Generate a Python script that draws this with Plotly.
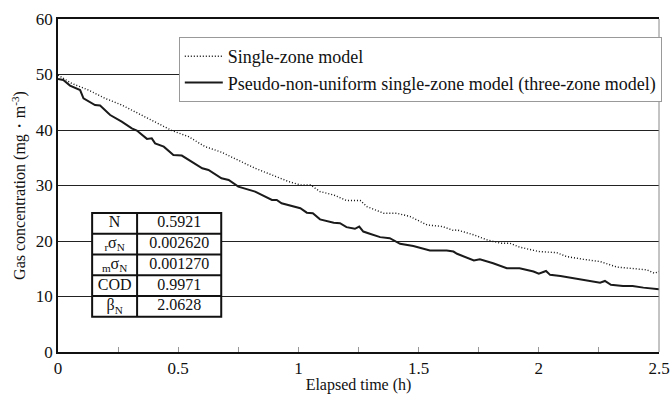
import plotly.graph_objects as go

# ---- data ----
t_single = [0, 0.057, 0.126, 0.196, 0.265, 0.335, 0.404, 0.474, 0.543, 0.612, 0.68, 0.75,
            0.82, 0.89, 0.96, 1.008, 1.05, 1.09, 1.147, 1.2, 1.257, 1.285, 1.355, 1.41,
            1.465, 1.535, 1.6, 1.645, 1.66, 1.73, 1.785, 1.84, 1.88, 1.92, 2.0, 2.075,
            2.115, 2.185, 2.255, 2.325, 2.39, 2.45, 2.48, 2.5]
c_single = [49.9, 48.4, 47.2, 45.7, 44.5, 43.0, 41.5, 39.9, 38.8, 37.0, 36.0, 34.6,
            33.1, 31.9, 30.7, 30.1, 30.1, 28.9, 28.3, 27.3, 27.3, 26.2, 25.0, 25.0,
            24.4, 22.9, 22.6, 21.9, 22.0, 21.1, 20.2, 19.6, 19.6, 18.9, 18.1, 17.9,
            17.2, 16.7, 16.3, 15.3, 15.1, 14.8, 14.2, 14.5]

t_three = [0, 0.022, 0.05, 0.092, 0.106, 0.154, 0.175, 0.217, 0.265, 0.307, 0.328, 0.37,
           0.39, 0.404, 0.44, 0.48, 0.515, 0.557, 0.6, 0.626, 0.68, 0.71, 0.75, 0.82,
           0.89, 0.91, 0.93, 1.008, 1.035, 1.06, 1.09, 1.147, 1.173, 1.2, 1.235, 1.253,
           1.27, 1.297, 1.34, 1.38, 1.423, 1.478, 1.547, 1.617, 1.645, 1.66, 1.73, 1.755,
           1.81, 1.867, 1.92, 1.978, 2.0, 2.03, 2.047, 2.09, 2.143, 2.2, 2.255, 2.275,
           2.3, 2.35, 2.39, 2.435, 2.5]
c_three = [49.2, 49.0, 48.0, 47.2, 45.7, 44.5, 44.4, 42.7, 41.5, 40.3, 39.9, 38.4,
           38.5, 37.6, 37.0, 35.5, 35.4, 34.3, 33.1, 32.8, 31.3, 31.0, 29.8, 28.9,
           27.4, 27.4, 26.8, 25.9, 25.1, 25.0, 23.9, 23.3, 23.2, 22.5, 22.2, 22.6,
           21.7, 21.3, 20.7, 20.5, 19.5, 19.1, 18.3, 18.3, 18.1, 17.7, 16.5, 16.7,
           16.0, 15.1, 15.1, 14.5, 14.1, 14.6, 13.9, 13.7, 13.3, 13.0, 12.5, 12.8,
           12.1, 11.9, 11.9, 11.6, 11.3]

series_names = ["Single-zone model",
                "Pseudo-non-uniform single-zone model (three-zone model)"]

table_labels = ["N", "<sub>r</sub>σ<sub>N</sub>", "<sub>m</sub>σ<sub>N</sub>", "COD", "β<sub>N</sub>"]
table_values = ["0.5921", "0.002620", "0.001270", "0.9971", "2.0628"]

x_ticks = [0, 0.5, 1, 1.5, 2, 2.5]
x_ticklabels = ["0", "0.5", "1", "1.5", "2", "2.5"]
y_ticks = [0, 10, 20, 30, 40, 50, 60]

FONT = "Liberation Serif"

fig = go.Figure()
fig.add_trace(go.Scatter(x=t_single, y=c_single, mode="lines", name=series_names[0],
                         legendgroup="a",
                         line=dict(color="#111111", width=1.4, dash="1px,2px")))
fig.add_trace(go.Scatter(x=t_three, y=c_three, mode="lines", name=series_names[1],
                         legendgroup="b",
                         line=dict(color="#1a1a1a", width=2)))

# ---- parameter table (layout in axis units) ----
tx0, tx1, tx2 = 0.142, 0.329, 0.679
ty_top, row_h = 25.05, 3.74
n = len(table_labels)
ty_bot = ty_top - n * row_h
shapes = [dict(type="rect", xref="x", yref="y", x0=tx0, x1=tx2, y0=ty_bot, y1=ty_top,
               line=dict(color="#111", width=2), fillcolor="white", layer="between"),
          dict(type="line", xref="x", yref="y", x0=tx1, x1=tx1, y0=ty_bot, y1=ty_top,
               line=dict(color="#111", width=2), layer="between")]
for i in range(1, n):
    yy = ty_top - i * row_h
    shapes.append(dict(type="line", xref="x", yref="y", x0=tx0, x1=tx2, y0=yy, y1=yy,
                       line=dict(color="#111", width=2), layer="between"))
# right frame (gray)
shapes.append(dict(type="line", xref="paper", yref="paper", x0=1, x1=1, y0=0, y1=1,
                   line=dict(color="#888", width=1), layer="above"))

row_y = [ty_top - (i + 0.5) * row_h for i in range(n)]
fig.add_trace(go.Scatter(x=[(tx0 + tx1) / 2] * n, y=row_y, mode="text", text=table_labels,
                         textposition="middle center", showlegend=False, hoverinfo="skip",
                         textfont=dict(family=FONT, size=16, color="#111")))
fig.add_trace(go.Scatter(x=[(tx1 + tx2) / 2] * n, y=row_y, mode="text", text=table_values,
                         textposition="middle center", showlegend=False, hoverinfo="skip",
                         textfont=dict(family=FONT, size=16, color="#111")))

fig.update_layout(
    width=670, height=394,
    margin=dict(l=58, r=11, t=19, b=42, autoexpand=False),
    paper_bgcolor="white", plot_bgcolor="white",
    font=dict(family=FONT, size=16, color="#111"),
    showlegend=True,
    legend=dict(x=0.201, y=0.946, xanchor="left", yanchor="top",
                bgcolor="white", bordercolor="#999", borderwidth=1,
                font=dict(family=FONT, size=18, color="#111"),
                itemwidth=38,
                traceorder="grouped", tracegroupgap=0),
    shapes=shapes,
    xaxis=dict(range=[0, 2.5], tickvals=x_ticks, ticktext=x_ticklabels, automargin=False,
               showgrid=False, zeroline=False, showline=True, linecolor="#111", linewidth=1.5,
               mirror=True, ticks="inside", ticklen=5, tickcolor="#999",
               minor=dict(dtick=0.25, ticks="inside", ticklen=5, tickcolor="#999"),
               tickfont=dict(family=FONT, size=17, color="#111"),
               title=dict(text="Elapsed time (h)", font=dict(family=FONT, size=16), standoff=2)),
    yaxis=dict(range=[0, 60], tickvals=y_ticks, automargin=False,
               showgrid=True, gridcolor="#222", gridwidth=1, zeroline=False,
               showline=True, linecolor="#111", linewidth=1.5, ticks="",
               tickfont=dict(family=FONT, size=17, color="#111"),
               title=dict(text="Gas concentration (mg・m<sup>-3</sup>)",
                          font=dict(family=FONT, size=16), standoff=6)),
)

fig.write_html("out.html")
